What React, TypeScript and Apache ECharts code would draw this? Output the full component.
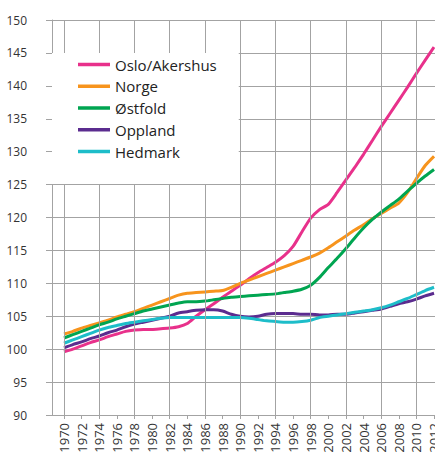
import React, { useEffect, useRef } from "react";
import * as echarts from "echarts";

const years = [
  1970, 1971, 1972, 1973, 1974, 1975, 1976, 1977, 1978, 1979,
  1980, 1981, 1982, 1983, 1984, 1985, 1986, 1987, 1988, 1989,
  1990, 1991, 1992, 1993, 1994, 1995, 1996, 1997, 1998, 1999,
  2000, 2001, 2002, 2003, 2004, 2005, 2006, 2007, 2008, 2009,
  2010, 2011, 2012,
];

const osloAkershus = [
  99.6, 100.0, 100.5, 101.0, 101.4, 101.9, 102.3, 102.7, 102.9, 103.0,
  103.0, 103.1, 103.2, 103.4, 103.9, 105.0, 106.0, 106.9, 107.9, 108.8,
  109.7, 110.7, 111.6, 112.4, 113.2, 114.2, 115.6, 117.8, 119.9, 121.2,
  122.0, 123.8, 125.7, 127.6, 129.6, 131.7, 133.8, 135.8, 137.8, 139.8,
  141.9, 143.9, 145.9,
];

const norge = [
  102.3, 102.7, 103.2, 103.6, 104.0, 104.4, 104.9, 105.3, 105.7, 106.2,
  106.7, 107.2, 107.7, 108.2, 108.5, 108.6, 108.7, 108.8, 108.9, 109.4,
  110.0, 110.5, 111.0, 111.5, 112.0, 112.5, 113.0, 113.5, 114.0, 114.6,
  115.4, 116.3, 117.2, 118.1, 118.9, 119.8, 120.6, 121.4, 122.2, 123.8,
  125.9, 127.9, 129.3,
];

const ostfold = [
  101.7, 102.2, 102.7, 103.2, 103.7, 104.1, 104.6, 105.0, 105.4, 105.8,
  106.1, 106.4, 106.7, 107.0, 107.2, 107.2, 107.3, 107.5, 107.7, 107.9,
  108.0, 108.1, 108.2, 108.3, 108.4, 108.6, 108.8, 109.1, 109.7, 110.9,
  112.4, 113.8, 115.3, 116.9, 118.4, 119.7, 120.8, 121.8, 122.8, 124.0,
  125.2, 126.3, 127.3,
];

const oppland = [
  100.2, 100.7, 101.1, 101.6, 102.0, 102.5, 102.9, 103.4, 103.8, 104.1,
  104.4, 104.7, 105.0, 105.5, 105.7, 105.9, 106.0, 106.0, 105.8, 105.3,
  105.0, 104.9, 105.0, 105.3, 105.4, 105.4, 105.4, 105.3, 105.3, 105.2,
  105.2, 105.3, 105.3, 105.5, 105.7, 105.9, 106.1, 106.5, 106.9, 107.2,
  107.6, 108.1, 108.5,
];

const hedmark = [
  100.9, 101.4, 101.9, 102.4, 102.9, 103.3, 103.6, 103.9, 104.1, 104.3,
  104.5, 104.7, 104.8, 104.8, 104.8, 104.8, 104.8, 104.8, 104.8, 104.8,
  104.8, 104.7, 104.5, 104.3, 104.2, 104.1, 104.1, 104.2, 104.4, 104.8,
  105.0, 105.2, 105.4, 105.6, 105.8, 106.0, 106.3, 106.7, 107.2, 107.7,
  108.3, 108.9, 109.4,
];

const seriesNames = ["Oslo/Akershus", "Norge", "Østfold", "Oppland", "Hedmark"];
const seriesValues = [osloAkershus, norge, ostfold, oppland, hedmark];
const seriesColors = ["#E8318B", "#F7941D", "#00A551", "#5B2C8F", "#1DBDC9"];

const xLabelYears = [
  1970, 1972, 1974, 1976, 1978, 1980, 1982, 1984, 1986, 1988, 1990,
  1992, 1994, 1996, 1998, 2000, 2002, 2004, 2006, 2008, 2010, 2012,
];
const xGridYears = [1970, 1974, 1978, 1982, 1986, 1990, 1994, 1998, 2002, 2006, 2010];

const GRID_COLOR = "#a3a3a3";
const FONT = "'Open Sans', 'Noto Sans', sans-serif";

export default function App() {
  const ref = useRef<HTMLDivElement>(null);

  useEffect(() => {
    if (!ref.current) return;
    const chart = echarts.init(ref.current, undefined, { renderer: "svg" });

    const lineSeries = seriesNames.map((name, i) => ({
      name,
      type: "line",
      data: years.map((y, j) => [y, seriesValues[i][j]]),
      symbol: "none",
      smooth: 0.2,
      z: 3,
      lineStyle: { color: seriesColors[i], width: 3 },
      itemStyle: { color: seriesColors[i] },
      emphasis: { disabled: true },
    }));

    const option = {
      animation: false,
      backgroundColor: "#ffffff",
      textStyle: { fontFamily: FONT },
      grid: {
        left: 52,
        right: 0,
        top: 20,
        bottom: 39,
        containLabel: false,
        outerBoundsMode: "none",
      },
      legend: {
        data: seriesNames,
        orient: "vertical",
        left: 52,
        top: 53,
        backgroundColor: "#ffffff",
        padding: [4, 22, 25, 26],
        icon: "rect",
        itemWidth: 32,
        itemHeight: 3.5,
        itemGap: 6.75,
        selectedMode: false,
        textStyle: {
          fontFamily: FONT,
          fontSize: 15,
          lineHeight: 15,
          color: "#222222",
        },
        z: 10,
      },
      xAxis: {
        type: "value",
        min: 1968.64,
        max: 2012.11,
        axisLine: { show: true, lineStyle: { color: GRID_COLOR, width: 1 } },
        axisTick: {
          show: true,
          customValues: xLabelYears,
          length: 4,
          lineStyle: { color: GRID_COLOR, width: 1 },
        },
        axisLabel: {
          customValues: xLabelYears,
          rotate: 90,
          margin: 8,
          fontSize: 13,
          fontFamily: FONT,
          color: "#333333",
          formatter: (v: number) => String(Math.round(v)),
        },
        splitLine: { show: false },
      },
      yAxis: {
        type: "value",
        min: 90,
        max: 150,
        interval: 5,
        axisLine: { show: true, lineStyle: { color: GRID_COLOR, width: 1 } },
        axisTick: { show: true, length: 6, lineStyle: { color: GRID_COLOR, width: 1 } },
        axisLabel: {
          margin: 25,
          fontSize: 12,
          fontFamily: FONT,
          color: "#333333",
        },
        splitLine: { show: true, lineStyle: { color: GRID_COLOR, width: 1 } },
      },
      series: [
        {
          name: "_grid",
          type: "line",
          data: [],
          z: 1,
          silent: true,
          markLine: {
            silent: true,
            symbol: ["none", "none"],
            label: { show: false },
            emphasis: { disabled: true },
            lineStyle: { color: GRID_COLOR, type: "solid", width: 1 },
            data: xGridYears.map((y) => ({ xAxis: y })),
          },
        },
        ...lineSeries,
      ],
    };

    chart.setOption(option as any);
    return () => chart.dispose();
  }, []);

  return (
    <div
      ref={ref}
      style={{ position: "absolute", left: 0, top: 0, width: 435, height: 454 }}
    />
  );
}
